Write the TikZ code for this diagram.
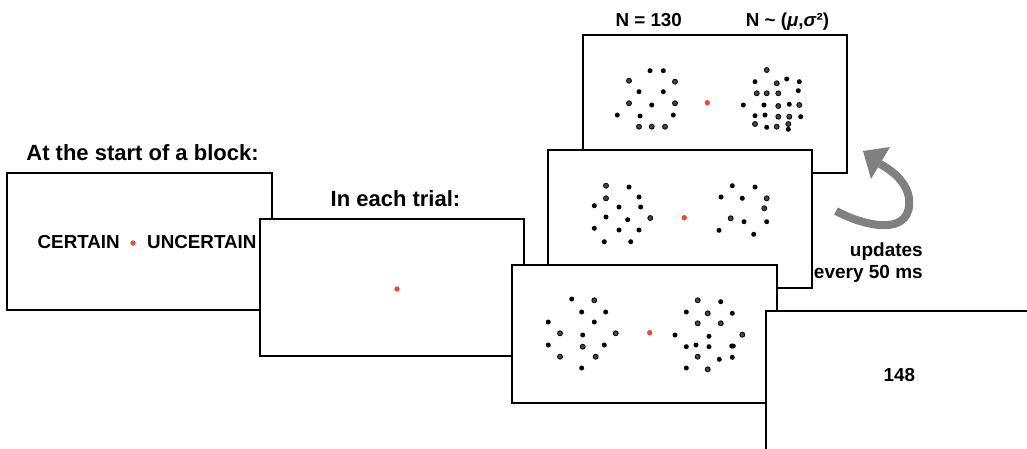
\documentclass[tikz,border=0pt]{standalone}
\usepackage{fontspec}
\setmainfont{Liberation Sans}
\begin{document}
\begin{tikzpicture}[x=1pt,y=-1pt,
  frame/.style={draw=black,fill=white,line width=1.6pt},
  dotb/.style={fill=black},
  dotg/.style={fill=black!72,draw=black,line width=0.8pt},
  fix/.style={fill=fixred},
  head/.style={font=\bfseries\fontsize{22}{26}\selectfont,inner sep=0pt,anchor=base},
  lab/.style={font=\bfseries\fontsize{18.8}{22}\selectfont,inner sep=0pt,anchor=base}]
\definecolor{fixred}{RGB}{238,72,58}
\definecolor{arrowgray}{RGB}{128,128,128}
\useasboundingbox (0,0) rectangle (1027,448);
\clip (0,0) rectangle (1027,448);

% block instruction screen
\draw[frame] (7,173) rectangle (272,310);
\node[head] (blockhead) at (142.5,160.5) {At the start of a block:};
\node[lab,anchor=base east] (certain) at (120,248.5) {CERTAIN};
\node[lab,anchor=base west] (uncertain) at (147,248.5) {UNCERTAIN};
\fill[fix] (133,243) circle (2.7);

% fixation screen
\draw[frame] (260,219) rectangle (524,356);
\node[head] (trialhead) at (395.5,206) {In each trial:};
\fill[fix] (397,289) circle (2.7);

% dot screens (drawn back to front)
\node[lab] (nfixed) at (648.7,26) {N = 130};
\node[lab] (nvar) at (787.5,26) {N \textasciitilde{} (\textit{μ},\textit{σ}²)};
\draw[frame] (583,35) rectangle (847,173);
\foreach \x/\y/\s in {650/70.7/b,663.3/70.7/b,629/80.7/g,675/81.7/g,639/91.7/b,663.3/91.7/b,
  629/103.3/g,651.7/105/b,675/103.3/g,617.3/115/b,640/116/b,673.3/115/b,639/126.7/g,651.7/126.7/g,665/126.7/g,
  766.7/70/g,755/81.7/b,776.7/83.3/g,786.7/79/b,799.3/81.7/b,756.7/93.3/g,766.7/93.3/g,778.3/93.3/g,798.3/90.7/b,
  743.3/105/b,764/105/b,778.3/106/g,789.3/104.3/b,799.3/105/g,755/115.7/b,765/115/b,778.3/116.7/g,789.3/116.7/g,
  800.7/116.7/b,755/124/g,766.7/127.3/b,776.7/126.7/g,788.3/124/g,788.3/129.3/b}
  \path[dot\s] (\x,\y) circle (2.5);
\fill[fix] (707.3,102.7) circle (2.7);

\draw[frame] (548,150) rectangle (812,288);
\foreach \x/\y/\s in {606/185.7/g,629/187/b,606/198.3/g,639/197/b,594.3/205.7/b,619/207/b,640.7/207/b,
  606/217/b,627.7/219.7/b,650.3/218/g,594.3/228.3/b,619/230/b,639/230/b,604.3/241.7/b,630.7/241.7/b,
  732.3/185.7/b,755/187/b,721/197/b,742.3/198.3/b,766.7/198.3/g,764.3/208.3/g,730.7/218.3/g,744/221.7/b,
  766.7/221.7/b,719/230.3/b,753.7/234.3/b}
  \path[dot\s] (\x,\y) circle (2.5);
\fill[fix] (684.3,217.7) circle (2.7);

\draw[frame] (512,265) rectangle (777,403);
\foreach \x/\y/\s in {571.7/299/b,594.3/300.3/g,581.7/312/b,605.7/312/b,548.3/322/b,594.3/322/b,560/333.3/g,
  582.7/335/b,615.7/333.3/g,548.3/345/b,582.7/346.7/g,604.3/345/b,560/356.7/g,595.7/356.7/g,581.7/368/b,
  697.7/300.3/g,720.7/301.7/b,686.3/312/b,707.7/313.3/g,732.3/313.3/b,697.7/323.3/g,720.7/323.3/g,675/335/b,
  709/336.3/b,742.3/334.7/g,686.3/346.7/b,696/345/b,709/346.7/b,731.7/346/b,733.3/346/b,697.7/356.7/g,
  719.3/359.3/b,732.3/357.3/b,686.3/368/b,707.7/369.3/g}
  \path[dot\s] (\x,\y) circle (2.5);
\fill[fix] (649.7,332.7) circle (2.7);

% update cycle arrow
\draw[arrowgray,line width=8pt] (836,211) .. controls (868,228) and (913,236) .. (909,198)
  .. controls (907,184) and (895,172) .. (880,164);
\fill[arrowgray] (863,151) -- (871,179) -- (890,147) -- cycle;
\node[lab,align=right,anchor=north east,font=\bfseries\fontsize{19}{21.5}\selectfont] (updates) at (923,243) {updates\\every 50 ms};

% response screen
\draw[frame] (766,311) rectangle (1040,460);
\node[lab] (resp) at (899.3,381) {148};
\end{tikzpicture}
\end{document}
